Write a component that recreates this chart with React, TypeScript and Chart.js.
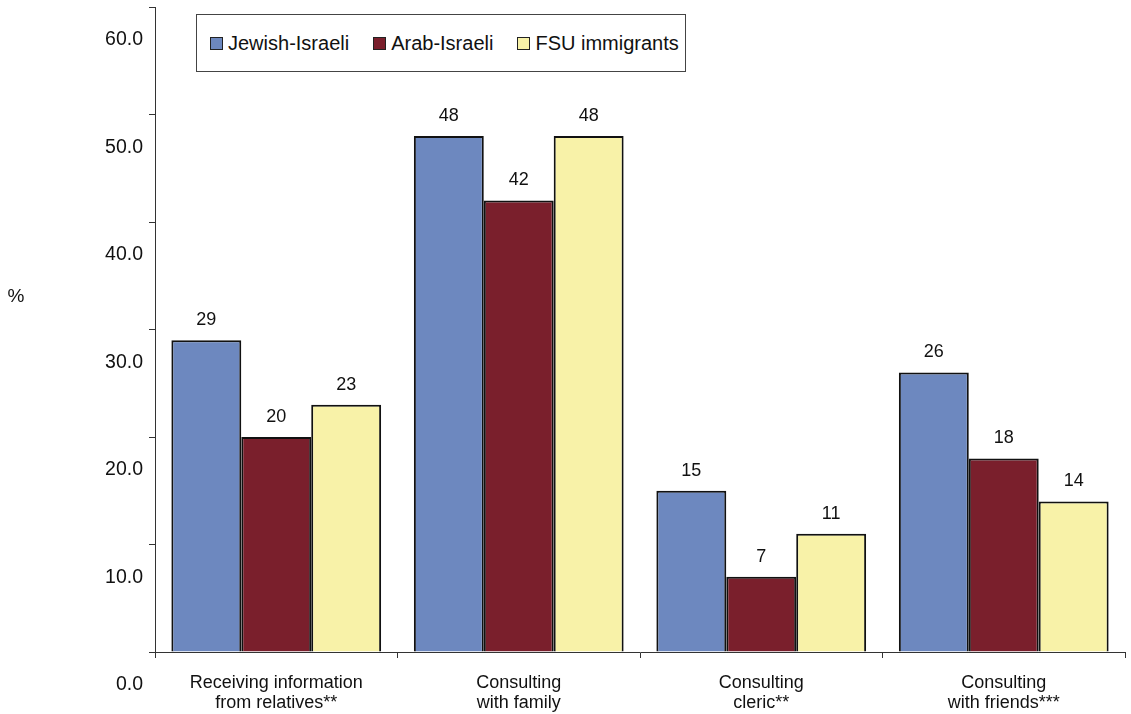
import React, { useEffect, useRef } from "react";
import { Chart, registerables } from "chart.js";

Chart.register(...registerables);

const categories: string[][] = [
  ["Receiving information", "from relatives**"],
  ["Consulting", "with family"],
  ["Consulting", "cleric**"],
  ["Consulting", "with friends***"],
];
const seriesNames = ["Jewish-Israeli", "Arab-Israeli", "FSU immigrants"];
const jewishIsraeli = [29, 48, 15, 26];
const arabIsraeli = [20, 42, 7, 18];
const fsuImmigrants = [23, 48, 11, 14];
const seriesColors = ["#6d88bf", "#7a1f2c", "#f8f2a8"];
const yTicks = [0, 10, 20, 30, 40, 50, 60];

const FONT = "'Liberation Sans', Arial, Helvetica, sans-serif";

export default function App() {
  const ref = useRef<HTMLCanvasElement | null>(null);

  useEffect(() => {
    document.body.style.margin = "0";
    const canvas = ref.current;
    if (!canvas) return;

    const valueLabels = {
      id: "valueLabels",
      afterDatasetsDraw(chart: any) {
        const ctx = chart.ctx;
        ctx.save();
        ctx.font = `18px ${FONT}`;
        ctx.fillStyle = "#111";
        ctx.textAlign = "center";
        ctx.textBaseline = "bottom";
        chart.data.datasets.forEach((ds: any, i: number) => {
          const meta = chart.getDatasetMeta(i);
          meta.data.forEach((el: any, j: number) => {
            ctx.fillText(String(ds.data[j]), el.x, el.y - 11);
          });
        });
        // axis unit label
        ctx.font = `19px ${FONT}`;
        ctx.textAlign = "center";
        ctx.textBaseline = "middle";
        ctx.fillText("%", 16, chart.scales.y.getPixelForValue(33));
        ctx.restore();
      },
    };

    const chart = new Chart(canvas, {
      type: "bar",
      data: {
        labels: categories,
        datasets: [jewishIsraeli, arabIsraeli, fsuImmigrants].map((d, i) => ({
          label: seriesNames[i],
          data: d,
          backgroundColor: seriesColors[i],
          borderColor: "#111",
          borderWidth: 2,
          categoryPercentage: 0.865,
          barPercentage: 1.0,
        })),
      },
      options: {
        animation: false,
        responsive: false,
        maintainAspectRatio: false,
        layout: { padding: { left: 0, right: 6, top: 7, bottom: 0 } },
        plugins: {
          legend: { display: false },
          tooltip: { enabled: false },
        },
        scales: {
          x: {
            afterFit: (s: any) => {
              s.height = 62;
              s.paddingLeft = 0;
              s.paddingRight = 0;
            },
            grid: {
              display: true,
              drawOnChartArea: false,
              drawTicks: true,
              tickLength: 6,
              color: "#333",
              offset: true,
            },
            border: { display: true, color: "#333", width: 1 },
            ticks: {
              color: "#111",
              font: { family: FONT, size: 18, lineHeight: 1.12 },
              padding: 15,
              maxRotation: 0,
              autoSkip: false,
            },
          },
          y: {
            min: 0,
            max: 60,
            afterFit: (s: any) => {
              s.width = 155;
              s.paddingTop = 0;
              s.paddingBottom = 0;
            },
            afterBuildTicks: (s: any) => {
              s.ticks = yTicks.map((v) => ({ value: v }));
            },
            grid: {
              display: true,
              drawOnChartArea: false,
              drawTicks: true,
              tickLength: 6,
              color: "#333",
            },
            border: { display: true, color: "#333", width: 1 },
            ticks: {
              color: "#111",
              font: { family: FONT, size: 19.5 },
              padding: 6,
              labelOffset: 33,
              callback: (v: any) => Number(v).toFixed(1),
            },
          },
        },
      },
      plugins: [valueLabels],
    });

    return () => chart.destroy();
  }, []);

  return (
    <div style={{ position: "relative", width: 1131, height: 714, background: "#fff", fontFamily: FONT }}>
      <canvas ref={ref} width={1131} height={714} style={{ display: "block" }} />
      <div
        style={{
          position: "absolute",
          left: 196,
          top: 14,
          width: 490,
          height: 58,
          boxSizing: "border-box",
          border: "1px solid #444",
          background: "#fff",
          display: "flex",
          alignItems: "center",
          paddingLeft: 13,
          fontSize: 20,
          color: "#111",
        }}
      >
        {seriesNames.map((n, i) => (
          <div key={n} style={{ display: "flex", alignItems: "center", marginRight: i < 2 ? 24 : 0 }}>
            <span
              style={{
                display: "inline-block",
                width: 11,
                height: 11,
                border: "1.5px solid #222",
                background: seriesColors[i],
                marginRight: 5,
              }}
            />
            <span>{n}</span>
          </div>
        ))}
      </div>
    </div>
  );
}
